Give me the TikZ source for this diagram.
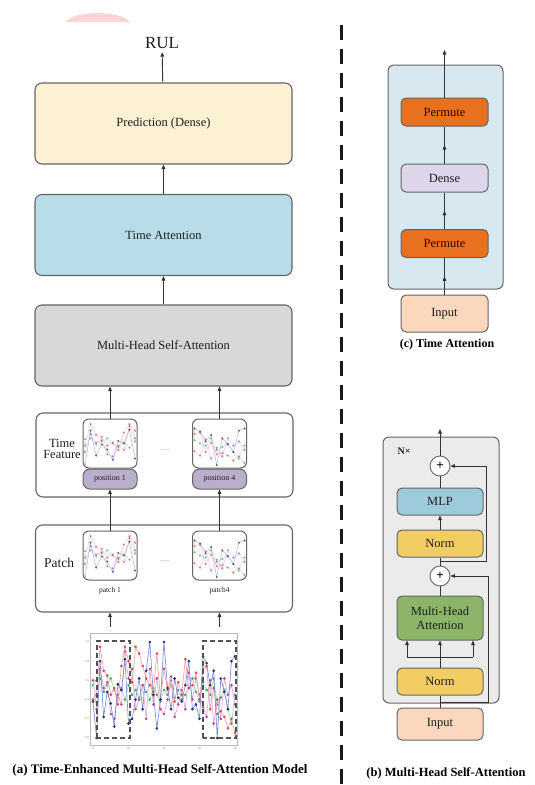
\documentclass[tikz,border=0pt]{standalone}
\usepackage{fontspec}
\setmainfont{Liberation Serif}
\usetikzlibrary{arrows.meta,calc,decorations.markings}

\definecolor{edgegray}{HTML}{646464}
\definecolor{linegray}{HTML}{333333}
\definecolor{txtgray}{HTML}{1E1E1E}
\definecolor{predfill}{HTML}{FCF1D2}
\definecolor{tafill}{HTML}{B8DDE9}
\definecolor{mhsafill}{HTML}{D8D8D8}
\definecolor{posfill}{HTML}{B9AECB}
\definecolor{cpanel}{HTML}{D8E8F0}
\definecolor{permfill}{HTML}{E8701E}
\definecolor{densefill}{HTML}{DDD5EA}
\definecolor{inputfill}{HTML}{FBD8BD}
\definecolor{bpanel}{HTML}{EBEBEB}
\definecolor{mlpfill}{HTML}{9ECBDB}
\definecolor{normfill}{HTML}{F2CD64}
\definecolor{mhafill}{HTML}{8DB56A}
\definecolor{blobpink}{HTML}{FCD6D6}
\definecolor{lineblue}{HTML}{7483CC}
\definecolor{markblue}{HTML}{23306E}
\definecolor{linered}{HTML}{F39A9A}
\definecolor{markred}{HTML}{E04848}
\definecolor{linegreen}{HTML}{9AD8B0}
\definecolor{markgreen}{HTML}{3FA56A}
\definecolor{linepink}{HTML}{E0A0D2}
\definecolor{markpink}{HTML}{B4489A}

\tikzset{
  arr/.style={draw=linegray, line width=0.9pt, -{Triangle[length=4.5pt,width=3.6pt]}},
  link/.style={draw=linegray, line width=0.9pt},
  midarr/.style={link, postaction={decorate},
    decoration={markings, mark=at position 0.5 with {\arrow{Triangle[length=4.5pt,width=3.6pt]}}}},
  bigbox/.style={draw=edgegray, line width=1.1pt, rounded corners=7pt, minimum width=257pt,
    minimum height=81pt, inner sep=0pt, text=txtgray, font=\fontsize{12.5}{15}\selectfont},
  rowbox/.style={draw=edgegray, fill=white, line width=1.1pt, rounded corners=7pt, minimum width=257pt, inner sep=0pt},
  chartbox/.style={draw=edgegray, fill=white, line width=1pt, rounded corners=6pt, minimum width=54pt,
    minimum height=49pt, inner sep=0pt},
  posbox/.style={draw=edgegray, fill=posfill, line width=1pt, rounded corners=7pt, minimum width=54pt,
    minimum height=20pt, inner sep=0pt, text=txtgray, font=\fontsize{8}{9}\selectfont},
  smallbox/.style={draw=edgegray, line width=1pt, rounded corners=5pt, minimum width=87pt,
    minimum height=28pt, inner sep=0pt, text=txtgray, align=center, font=\fontsize{12.5}{14}\selectfont},
  panelbox/.style={draw=edgegray, line width=1pt, rounded corners=6pt},
  plusnode/.style={circle, draw=edgegray, fill=white, line width=0.9pt, minimum size=20pt,
    inner sep=0pt, font=\bfseries\fontsize{13}{13}\selectfont},
  rowlbl/.style={text=txtgray, align=center, font=\fontsize{12.5}{13}\selectfont},
  smalllbl/.style={text=txtgray, font=\fontsize{7.5}{8}\selectfont},
  ticklbl/.style={text=gray, inner sep=0.5pt, font=\fontsize{3}{3}\selectfont},
  subcap/.style={text=black, font=\bfseries\fontsize{13}{15}\selectfont},
  serblue/.style={draw=lineblue, line width=0.6pt, mark options={fill=markblue, draw=markblue}},
  serred/.style={draw=linered, line width=0.6pt, mark options={fill=markred, draw=markred}},
  sergreen/.style={draw=linegreen, line width=0.6pt, mark options={fill=markgreen, draw=markgreen}},
  serpink/.style={draw=linepink, line width=0.6pt, mark options={fill=markpink, draw=markpink}},
}

% the four sensor series, t = 0..40, values 0..1
\newcommand\sensorlines[1]{%
  \draw[sergreen] plot[mark=*, mark size=#1] coordinates {(0,.55) (1,.6) (2,.62) (3,.48) (4,.55) (5,.62) (6,.5) (7,.42) (8,.52) (9,.4) (10,.55) (11,.45) (12,.5) (13,.42) (14,.55) (15,.48) (16,.4) (17,.52) (18,.45) (19,.38) (20,.5) (21,.45) (22,.55) (23,.42) (24,.5) (25,.4) (26,.45) (27,.52) (28,.62) (29,.48) (30,.38) (31,.58) (32,.5) (33,.45) (34,.62) (35,.35) (36,.42) (37,.5) (38,.3) (39,.15) (40,.45)};
  \draw[serpink] plot[mark=*, mark size=#1] coordinates {(0,.6) (1,.3) (2,.72) (3,.52) (4,.58) (5,.25) (6,.2) (7,.45) (8,.35) (9,.9) (10,.62) (11,.72) (12,.3) (13,.4) (14,.55) (15,.2) (16,.72) (17,.35) (18,.62) (19,.3) (20,.25) (21,.4) (22,.6) (23,.22) (24,.35) (25,.5) (26,.3) (27,.68) (28,.4) (29,.62) (30,.45) (31,.32) (32,.22) (33,.6) (34,.15) (35,.4) (36,.2) (37,.62) (38,.45) (39,.55) (40,.35)};
  \draw[serred] plot[mark=*, mark size=#1] coordinates {(0,.4) (1,.45) (2,.95) (3,.7) (4,.65) (5,.45) (6,.52) (7,.35) (8,.75) (9,.95) (10,.8) (11,.58) (12,.95) (13,.88) (14,.75) (15,.62) (16,.55) (17,.48) (18,.88) (19,.4) (20,.72) (21,.5) (22,.64) (23,.38) (24,.58) (25,.45) (26,.82) (27,.52) (28,.55) (29,.68) (30,.4) (31,.72) (32,.75) (33,.3) (34,.52) (35,.25) (36,.28) (37,.22) (38,.1) (39,.2) (40,.05)};
  \draw[serblue] plot[mark=*, mark size=#1] coordinates {(0,.38) (1,0) (2,.8) (3,.22) (4,.48) (5,.36) (6,.12) (7,.56) (8,.5) (9,.82) (10,.15) (11,.2) (12,.4) (13,.62) (14,.3) (15,.7) (16,1) (17,.45) (18,.1) (19,.4) (20,1) (21,.52) (22,.3) (23,.62) (24,.42) (25,.38) (26,.55) (27,.8) (28,.3) (29,.35) (30,.2) (31,.85) (32,.78) (33,.55) (34,.7) (35,0) (36,.62) (37,.48) (38,.3) (39,.8) (40,.85)};
}
% faded patch of the series inside a 54x49 chart box: #1 left, #2 top, #3 first t
\newcommand\patchplot[3]{%
  \begin{scope}
    \clip[rounded corners=6pt] (#1+1,#2+1) rectangle (#1+53,#2+48);
    \begin{scope}[shift={({#1+2-5.556*#3},{#2+46})}, x=5.556pt, y=43pt, opacity=0.5]
      \sensorlines{0.8pt}
    \end{scope}
  \end{scope}
}

\begin{document}
\begin{tikzpicture}[x=1pt, y=-1pt]
  %%%%% START %%%%%
  \useasboundingbox (0,0) rectangle (535,785);
  \fill[white] (0,0) rectangle (535,785);
  \fill[blobpink] (65,22) .. controls (75,10) and (120,10) .. (130,22) -- cycle;

  %% (a) model
  \node[text=txtgray, font=\fontsize{17}{18}\selectfont] (rul) at (162,43) {RUL};
  \node[bigbox, fill=predfill] (pred) at (163.5,123.5) {Prediction (Dense)};
  \node[bigbox, fill=tafill] (ta) at (163.5,235) {Time Attention};
  \node[bigbox, fill=mhsafill] (mhsa) at (163.5,345.5) {Multi-Head Self-Attention};

  \node[rowbox, minimum height=84pt] (tfrow) at (164.5,455) {};
  \node[rowlbl] (tflbl) at (62,449) {Time\\[-2pt]Feature};
  \node[chartbox] (tf1) at (110,443.5) {};
  \patchplot{83}{419}{1}
  \node[chartbox] (tf4) at (219.5,443.5) {};
  \patchplot{192.5}{419}{31}
  \node[posbox] (pos1) at (110,479) {position 1};
  \node[posbox] (pos4) at (219.5,479) {position 4};
  \node[text=gray, font=\fontsize{9}{9}\selectfont] (tfdots) at (165,450) {\dots};

  \node[rowbox, minimum height=87pt] (patchrow) at (164,568.5) {};
  \node[rowlbl, font=\fontsize{13.5}{14}\selectfont] (patchlbl) at (59,563) {Patch};
  \node[chartbox] (pc1) at (110,555.5) {};
  \patchplot{83}{531}{1}
  \node[chartbox] (pc4) at (219.5,555.5) {};
  \patchplot{192.5}{531}{31}
  \node[smalllbl] (pc1lbl) at (110,591) {patch 1};
  \node[smalllbl] (pc4lbl) at (219.5,591) {patch4};
  \node[text=gray, font=\fontsize{9}{9}\selectfont] (pcdots) at (165,561) {\dots};

  % raw sensor plot
  \node[minimum width=155pt, minimum height=128pt, inner sep=0pt] (bigplot) at (162.5,691) {};
  \begin{scope}[shift={(93,738)}, x=3.55pt, y=96pt]
    \draw[gray!55, line width=0.4pt] (-0.85,-0.073) rectangle (40.6,1.09);
    \foreach \v in {0.0,0.2,0.4,0.6,0.8,1.0}
      \node[ticklbl, anchor=east] at (-0.9,\v) {\v};
    \foreach \t in {0,10,20,30,40}
      \node[ticklbl, anchor=north] at (\t,-0.09) {\t};
    \sensorlines{1pt}
    \draw[linegray!85, line width=1.3pt, dash pattern=on 5pt off 3pt] (1.13,0) rectangle (10.4,1.01);
    \draw[linegray!85, line width=1.3pt, dash pattern=on 5pt off 3pt] (31,0) rectangle (40.3,1.01);
  \end{scope}

  \draw[arr] (pred) -- (rul);
  \draw[arr] (ta) -- (pred);
  \draw[arr] (mhsa) -- (ta);
  \draw[arr] (tf1) -- (tf1 |- mhsa.south);
  \draw[arr] (tf4) -- (tf4 |- mhsa.south);
  \draw[arr] (pc1) -- (pos1);
  \draw[arr] (pc4) -- (pos4);
  \draw[arr] (pc1 |- bigplot.north) -- (pc1 |- patchrow.south);
  \draw[arr] (pc4 |- bigplot.north) -- (pc4 |- patchrow.south);
  \node[subcap] (capa) at (160,770) {(a) Time-Enhanced Multi-Head Self-Attention Model};

  %% divider
  \draw[black!90, line width=3pt, dash pattern=on 15pt off 9pt] (341,25) -- (341,785);

  %% (c) time attention
  \draw[panelbox, fill=cpanel] (388,65) rectangle (503,289);
  \node[smallbox, fill=permfill, text=black!80!red] (perm2) at (444.5,112) {Permute};
  \node[smallbox, fill=densefill] (dense) at (444.5,178) {Dense};
  \node[smallbox, fill=permfill, text=black!80!red] (perm1) at (444.5,243.5) {Permute};
  \node[smallbox, fill=inputfill, minimum height=37pt] (inc) at (444.5,313.5) {Input};
  \coordinate (cout) at (444.5,50);
  \draw[midarr] (inc) -- (perm1);
  \draw[midarr] (perm1) -- (dense);
  \draw[midarr] (dense) -- (perm2);
  \draw[arr] (perm2) -- (cout);
  \node[subcap, font=\bfseries\fontsize{12}{14}\selectfont] (capc) at (447,345) {(c) Time Attention};

  %% (b) multi-head self-attention
  \draw[panelbox, fill=bpanel] (383,437) rectangle (499,703);
  \node[text=txtgray, font=\bfseries\fontsize{10}{10}\selectfont] (nx) at (404,451) {N×};
  \node[plusnode] (plus1) at (440,466) {+};
  \node[smallbox, fill=mlpfill, minimum width=86pt, minimum height=27pt] (mlp) at (440,501.5) {MLP};
  \node[smallbox, fill=normfill, minimum width=86pt, minimum height=27pt] (norm2) at (440,543.5) {Norm};
  \node[plusnode] (plus2) at (440,576) {+};
  \node[smallbox, fill=mhafill, minimum width=86pt, minimum height=44pt, font=\fontsize{12.5}{13.5}\selectfont] (mha) at (440,618) {Multi-Head\\Attention};
  \node[smallbox, fill=normfill, minimum width=86pt, minimum height=27pt] (norm1) at (440,681.5) {Norm};
  \node[smallbox, fill=inputfill, minimum width=86pt, minimum height=32pt] (inb) at (440,724) {Input};
  \coordinate (bout) at (440,429);
  \coordinate (bsplit1) at (440,702);
  \coordinate (bsplit2) at (440,561);
  \coordinate (bfan) at (440,657);
  \coordinate (fanL) at (407,657);
  \coordinate (fanR) at (473,657);
  \draw[link] (inb) -- (norm1);
  \draw[link] (norm1) -- (bfan);
  \draw[link] (fanL) -- (fanR);
  \draw[arr] (fanL) -- (fanL |- mha.south);
  \draw[arr] (bfan) -- (mha);
  \draw[arr] (fanR) -- (fanR |- mha.south);
  \draw[link] (mha) -- (plus2);
  \draw[link] (plus2) -- (norm2);
  \draw[arr] (norm2) -- (mlp);
  \draw[link] (mlp) -- (plus1);
  \draw[arr] (plus1) -- (bout);
  \draw[arr] (bsplit1) -- ++(48,0) |- (plus2);
  \draw[arr] (bsplit2) -- ++(46,0) |- (plus1);
  \node[subcap, font=\bfseries\fontsize{12.5}{14}\selectfont] (capb) at (446,773) {(b) Multi-Head Self-Attention};
  %%%%% END %%%%%
\end{tikzpicture}
\end{document}
